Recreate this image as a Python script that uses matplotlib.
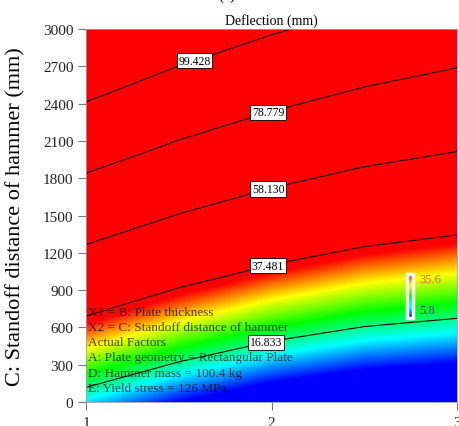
import numpy as np
import matplotlib
matplotlib.use("Agg")
import matplotlib.pyplot as plt
from matplotlib.colors import LinearSegmentedColormap

# Plate thickness (X1) and standoff distance (X2) grid, deflection
THICKNESS = [1.0, 1.5, 2.0, 2.5, 3.0]
STANDOFF = [0, 500, 1000, 1500, 2000, 2500, 3000]
DEFL_T10 = [12.6, 30.6, 48.6, 66.5, 84.5, 102.5, 120.4]
DEFL_T15 = [5.6, 23.0, 40.3, 57.7, 75.1, 92.4, 109.8]
DEFL_T20 = [0.5, 17.2, 34.0, 50.7, 67.5, 84.2, 101.0]
DEFL_T25 = [-2.7, 13.4, 29.5, 45.5, 61.6, 77.7, 93.8]
DEFL_T30 = [-3.9, 11.5, 26.9, 42.3, 57.7, 73.0, 88.4]

LEVELS = [16.833, 37.481, 58.130, 78.779, 99.428]
VMIN, VMAX = 5.8, 35.6
YTICKS = [0, 300, 600, 900, 1200, 1500, 1800, 2100, 2400, 2700, 3000]
XTICKS = [1, 2, 3]

FACTOR_TEXT = [
    "X1 = B: Plate thickness",
    "X2 = C: Standoff distance of hammer",
    "Actual Factors",
    "A: Plate geometry = Rectangular Plate",
    "D: Hammer mass = 100.4 kg",
    "E: Yield stress = 126 MPa",
]

plt.rcParams["font.family"] = ["Liberation Serif", "DejaVu Serif"]

z = np.column_stack([DEFL_T10, DEFL_T15, DEFL_T20, DEFL_T25, DEFL_T30])
x = np.array(THICKNESS)
y = np.array(STANDOFF, dtype=float)
dx = x[1] - x[0]
dy = y[1] - y[0]

cmap = LinearSegmentedColormap.from_list(
    "de", ["#0000ff", "#00ffff", "#00ff00", "#ffff00", "#ff0000"])

fig = plt.figure(figsize=(4.59, 4.27), dpi=100)
ax = fig.add_axes([86 / 459, 24 / 427, 371 / 459, 373 / 427])

im = ax.imshow(z, origin="lower", aspect="auto", cmap=cmap,
               vmin=VMIN, vmax=VMAX, interpolation="bilinear",
               interpolation_stage="data",
               extent=[x[0] - dx / 2, x[-1] + dx / 2, y[0] - dy / 2, y[-1] + dy / 2])

cs = ax.contour(x, y, z, levels=LEVELS, colors="#1a0a0a", linewidths=0.8)
label_pos = [(1.97, 491), (1.98, 1102), (1.98, 1721), (1.98, 2340), (1.58, 2767)]
labels = ax.clabel(cs, fmt="%.3f", manual=label_pos, inline=False, fontsize=8.5)
for t in labels:
    t.set_rotation(0)
    t.set_color("black")
    t.set_bbox(dict(facecolor="white", edgecolor="black", linewidth=0.6, pad=1.2))

ax.set_xlim(1, 3)
ax.set_ylim(0, 3000)
ax.set_xticks(XTICKS)
ax.set_yticks(YTICKS)
ax.tick_params(axis="both", length=6, width=0.8, color="#777777",
               labelsize=11, labelcolor="#222222")
ax.tick_params(axis="x", pad=4)
ax.tick_params(axis="y", pad=3)
for sp in ax.spines.values():
    sp.set_color("#9a9ab0")
    sp.set_linewidth(0.6)

ax.set_title("Deflection (mm)", fontsize=10, pad=4)
ax.set_ylabel("C: Standoff distance of hammer (mm)", fontsize=16)
ax.yaxis.set_label_coords(-0.162, 0.5)

fig.text(218 / 459, 1.0, "(a)", fontsize=11, va="baseline", ha="left")

for i, line in enumerate(FACTOR_TEXT):
    ax.text(0.006, 0.241 - i * 0.0405, line, transform=ax.transAxes,
            fontsize=9.5, va="center", ha="left", color="black", alpha=0.7)

# small colour legend in the lower right
cax = fig.add_axes([407 / 459, (427 - 319) / 427, 6 / 459, 44 / 427])
cb = fig.colorbar(im, cax=cax)
cb.set_ticks([])
cb.outline.set_edgecolor("white")
cb.outline.set_linewidth(2.5)
cax.text(2.1, 0.88, f"{VMAX}", transform=cax.transAxes, fontsize=9,
         color="#c8641e", va="center", ha="left")
cax.text(2.1, 0.18, f"{VMIN}", transform=cax.transAxes, fontsize=9,
         color="#1f3c8c", va="center", ha="left")

fig.savefig("out.png", dpi=100)
